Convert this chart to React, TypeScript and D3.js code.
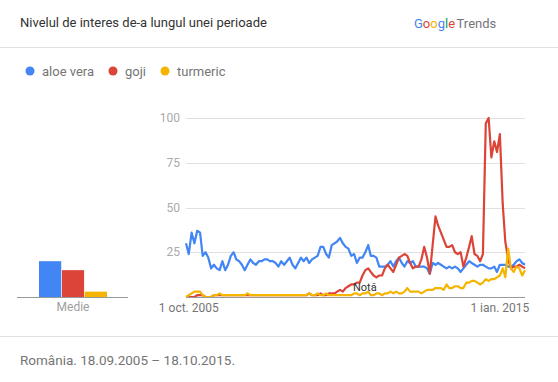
import React from "react";
import * as d3 from "d3";

const seriesNames = ["aloe vera", "goji", "turmeric"];
const seriesColors = ["#4285f4", "#db4437", "#f4b400"];

const aloeVera = [
  30, 24, 36, 30, 37, 36, 23, 25, 22, 16,
  18, 16, 15, 20, 15, 18, 23, 25, 21, 20,
  18, 15, 18, 21, 19, 18, 20, 20, 21, 21,
  20, 20, 19, 17, 20, 18, 20, 22, 18, 16,
  19, 22, 20, 22, 19, 21, 22, 23, 28, 28,
  24, 22, 29, 30, 31, 33, 30, 28, 27, 23,
  24, 19, 22, 22, 25, 29, 23, 23, 22, 17,
  17, 17, 18, 20, 17, 20, 22, 19, 17, 20,
  19, 20, 17, 17, 17, 17, 16, 13, 19, 18,
  19, 18, 17, 16, 17, 16, 17, 16, 14, 16,
  18, 20, 19, 18, 17, 18, 18, 17, 16, 16,
  17, 14, 18, 18, 18, 17, 17, 18, 20, 21,
  19, 18,
];

const goji = [
  0, 0, 0, 0, 1, 1, 1, 0, 0, 0,
  1, 1, 1, 1, 1, 1, 1, 1, 1, 1,
  1, 1, 1, 1, 1, 1, 1, 1, 1, 1,
  1, 1, 1, 1, 1, 1, 1, 1, 1, 1,
  1, 1, 1, 1, 2, 1, 1, 1, 2, 1,
  1, 2, 2, 2, 3, 4, 3, 5, 6, 7,
  7, 8, 8, 12, 15, 16, 14, 12, 11, 12,
  12, 16, 18, 16, 14, 18, 22, 23, 24, 23,
  19, 16, 17, 17, 21, 28, 22, 13, 29, 45,
  40, 36, 32, 28, 28, 29, 25, 24, 25, 17,
  22, 28, 34, 24, 23, 20, 24, 97, 100, 78,
  87, 81, 91, 52, 31, 21, 16, 17, 17, 18,
  17, 16,
];

const turmeric = [
  0, 1, 2, 3, 3, 3, 1, 0, 0, 0,
  1, 1, 2, 1, 1, 1, 1, 1, 1, 1,
  1, 1, 2, 1, 1, 1, 1, 1, 1, 1,
  1, 1, 1, 1, 1, 1, 1, 1, 1, 1,
  1, 1, 1, 1, 2, 1, 1, 2, 1, 1,
  2, 1, 1, 1, 1, 1, 1, 1, 1, 1,
  2, 2, 1, 2, 2, 3, 1, 1, 2, 2,
  1, 2, 2, 3, 2, 3, 2, 2, 3, 5,
  3, 3, 3, 3, 2, 3, 4, 4, 4, 5,
  5, 5, 4, 7, 5, 5, 6, 6, 5, 5,
  8, 8, 9, 9, 8, 7, 8, 10, 9, 10,
  10, 11, 12, 16, 11, 27, 16, 14, 17, 16,
  12, 15,
];

const averages = [20, 15, 3];

const startMonth = new Date(2005, 8, 1);
const endMonth = new Date(2015, 9, 1);
const yTicks = [25, 50, 75, 100];
const xTickDates = [new Date(2005, 9, 1), new Date(2015, 0, 1)];
const xTickLabels = ["1 oct. 2005", "1 ian. 2015"];

const titleText = "Nivelul de interes de-a lungul unei perioade";
const footerText = "România. 18.09.2005 – 18.10.2015.";
const avgLabel = "Medie";
const noteLabel = "Notă";

const FONT = "Roboto, 'Noto Sans', Arial, sans-serif";

export default function App() {
  const W = 558;
  const H = 382;
  const plotLeft = 186;
  const plotRight = 525;
  const y0 = 297;
  const y100 = 118;

  const x = d3.scaleTime().domain([startMonth, endMonth]).range([plotLeft, plotRight]);
  const y = d3.scaleLinear().domain([0, 100]).range([y0, y100]);

  const allSeries = [aloeVera, goji, turmeric];
  const dates = aloeVera.map((_, i) => d3.timeMonth.offset(startMonth, i));
  const line = d3
    .line<number>()
    .x((_, i) => x(dates[i]))
    .y((v) => y(v));

  const barX = d3.scaleBand<number>().domain([0, 1, 2]).range([39, 107]).paddingInner(0.03);

  const legendX = [30, 113, 165];

  return (
    <div style={{ position: "absolute", left: 0, top: 0 }}>
      <svg width={W} height={H} style={{ display: "block", fontFamily: FONT }}>
        <rect x={0} y={0} width={W} height={H} fill="#fff" />
        <text x={20} y={27} fontSize={13} fill="#333">
          {titleText}
        </text>
        <text x={414} y={28} fontSize={13}>
          <tspan fill="#4285f4">G</tspan>
          <tspan fill="#db4437">o</tspan>
          <tspan fill="#f4b400">o</tspan>
          <tspan fill="#4285f4">g</tspan>
          <tspan fill="#0f9d58">l</tspan>
          <tspan fill="#db4437">e</tspan>
          <tspan fill="#757575" dx={1.5}>Trends</tspan>
        </text>
        <line x1={0} x2={W} y1={47.5} y2={47.5} stroke="#e0e0e0" />

        {seriesNames.map((n, i) => (
          <g key={n}>
            <circle cx={legendX[i]} cy={71} r={4.5} fill={seriesColors[i]} />
            <text x={legendX[i] + 12} y={76} fontSize={13} fill="#757575">
              {n}
            </text>
          </g>
        ))}

        {yTicks.map((t) => (
          <g key={t}>
            <line x1={plotLeft} x2={plotRight} y1={Math.round(y(t)) + 0.5} y2={Math.round(y(t)) + 0.5} stroke="#e0e0e0" />
            <text x={180} y={y(t) + 4} fontSize={12} fill="#aaa" textAnchor="end">
              {t}
            </text>
          </g>
        ))}

        {averages.map((v, i) => (
          <rect
            key={i}
            x={barX(i)}
            y={y(v)}
            width={barX.bandwidth()}
            height={y0 - y(v)}
            fill={seriesColors[i]}
          />
        ))}
        <line x1={17} x2={128} y1={y0 + 0.5} y2={y0 + 0.5} stroke="#999" />
        <text x={73} y={311} fontSize={12} fill="#9e9e9e" textAnchor="middle">
          {avgLabel}
        </text>

        {allSeries.map((s, i) => (
          <path
            key={i}
            d={line(s) || ""}
            fill="none"
            stroke={seriesColors[i]}
            strokeWidth={2.2}
            strokeLinejoin="round"
          />
        ))}
        <line x1={plotLeft} x2={plotRight} y1={y0 + 0.5} y2={y0 + 0.5} stroke="#999" />

        <text x={353} y={291} fontSize={11} fill="#333">
          {noteLabel}
        </text>

        {xTickDates.map((d, i) => (
          <text key={i} x={x(d)} y={312} fontSize={12} fill="#757575" textAnchor="middle">
            {xTickLabels[i]}
          </text>
        ))}

        <line x1={0} x2={W} y1={336.5} y2={336.5} stroke="#e0e0e0" />
        <text x={20} y={365} fontSize={13.5} fill="#757575">
          {footerText}
        </text>
      </svg>
    </div>
  );
}
